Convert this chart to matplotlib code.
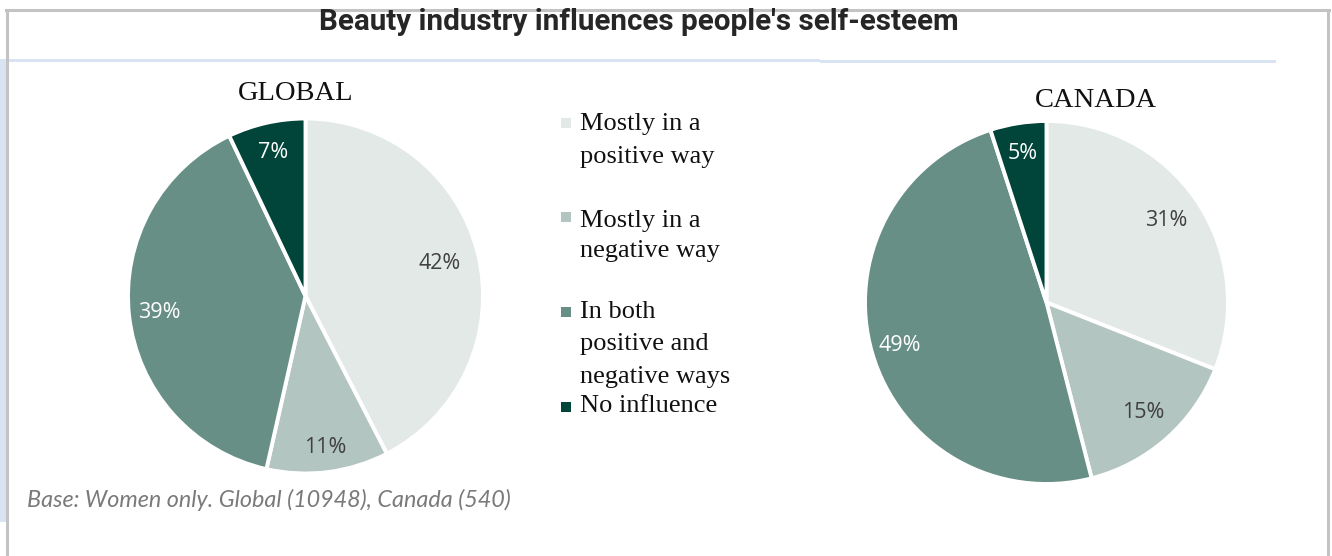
import matplotlib
matplotlib.use("Agg")
import matplotlib.pyplot as plt
from matplotlib.patches import Rectangle
from matplotlib.lines import Line2D
import numpy as np

# ---- data ----
title = "Beauty industry influences people's self-esteem"
categories = ["Mostly in a\npositive way", "Mostly in a\nnegative way",
              "In both\npositive and\nnegative ways", "No influence"]
global_values = [42, 11, 39, 7]
canada_values = [31, 15, 49, 5]
footnote = "Base: Women only. Global (10948), Canada (540)"

colors = ["#e3e9e7", "#b3c5c1", "#678f85", "#00443a"]
label_colors = ["#404040", "#404040", "#ffffff", "#ffffff"]

W, H = 1332, 556
fig = plt.figure(figsize=(W / 100, H / 100), dpi=100)


def fx(x):
    return x / W


def fy(y):
    return 1 - y / H


# ---- frame and rules ----
frame = "#c3c3c3"
fig.add_artist(Line2D([fx(6), fx(1329)], [fy(10), fy(10)], color=frame, lw=2.2))
fig.add_artist(Line2D([fx(7), fx(7)], [fy(10), fy(556)], color=frame, lw=2.2))
fig.add_artist(Line2D([fx(1328), fx(1328)], [fy(10), fy(556)], color=frame, lw=2.2))
blue = "#dae3f3"
fig.add_artist(Rectangle((fx(0), fy(62)), fx(820), 3 / H, color=blue, lw=0))
fig.add_artist(Rectangle((fx(820), fy(63)), fx(1276 - 820), 3 / H, color=blue, lw=0))
fig.add_artist(Rectangle((fx(0), fy(522)), fx(6), (522 - 59) / H, color=blue, lw=0))

fig.text(fx(639), fy(22), title, ha="center", va="center",
         fontsize=21.3, fontweight="bold", family="Roboto", color="#262626")


def draw_pie(cx, cy, r, values, dists, heading, hx, hy):
    ax = fig.add_axes([fx(cx - r), fy(cy + r), 2 * r / W, 2 * r / H])
    ax.pie(values, colors=colors, startangle=90, counterclock=False,
           radius=1, wedgeprops=dict(edgecolor="white", linewidth=2.8))
    total = sum(values)
    ang = 90.0
    for v, d, c in zip(values, dists, label_colors):
        span = 360.0 * v / total
        mid = np.deg2rad(ang - span / 2)
        ax.text(d * np.cos(mid), d * np.sin(mid), f"{v}%", ha="center", va="center",
                fontsize=15.5, family="Open Sans", color=c)
        ang -= span
    ax.set_xlim(-1, 1)
    ax.set_ylim(-1, 1)
    ax.set_aspect("equal")
    ax.axis("off")
    fig.text(fx(hx), fy(hy), heading, ha="center", va="baseline",
             fontsize=20.5, family="Liberation Serif", color="#111111")


draw_pie(305.5, 296, 177.5, global_values, [0.78, 0.86, 0.83, 0.83], "GLOBAL", 296, 100)
draw_pie(1046.5, 302.5, 181.5, canada_values, [0.80, 0.81, 0.84, 0.83], "CANADA", 1096, 107)

# ---- legend ----
line_baselines = [[130, 163], [227, 257], [318, 350, 383], [412]]
square_centers = [123, 217, 312, 407]
for cat, col, bases, sq in zip(categories, colors, line_baselines, square_centers):
    fig.add_artist(Rectangle((fx(561), fy(sq + 5)), 10 / W, 10 / H, color=col, lw=0))
    for line, b in zip(cat.split("\n"), bases):
        fig.text(fx(580), fy(b), line, ha="left", va="baseline",
                 fontsize=19, family="Liberation Serif", color="#111111")

fig.text(fx(27), fy(507), footnote, ha="left", va="baseline", fontsize=16.8,
         family="Lato", style="italic", color="#7a7a7a")

fig.savefig("out.png", dpi=100)
